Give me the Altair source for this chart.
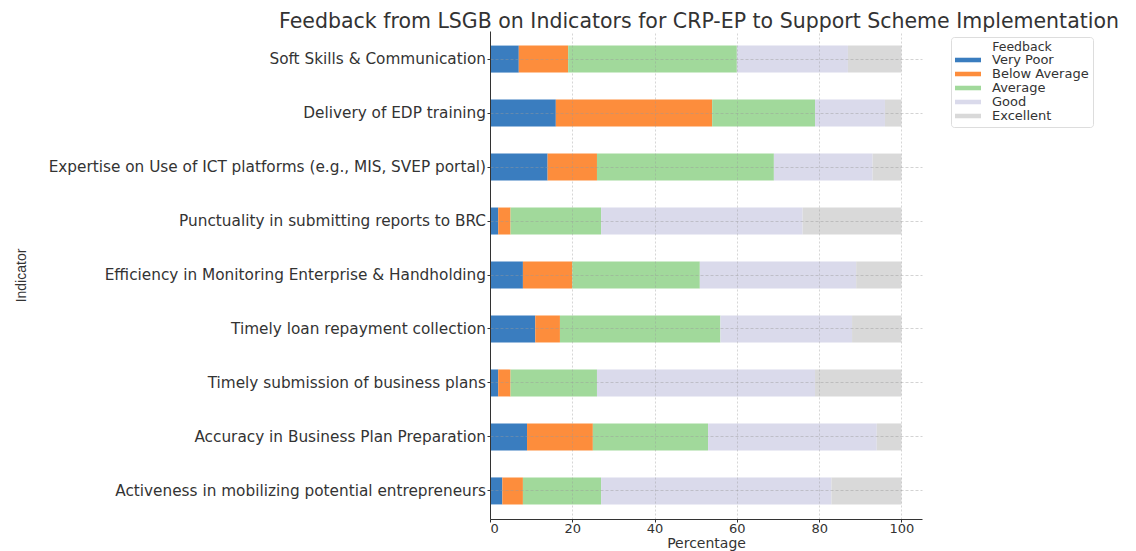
import altair as alt
import pandas as pd

indicators = [
    "Soft Skills & Communication",
    "Delivery of EDP training",
    "Expertise on Use of ICT platforms (e.g., MIS, SVEP portal)",
    "Punctuality in submitting reports to BRC",
    "Efficiency in Monitoring Enterprise & Handholding",
    "Timely loan repayment collection",
    "Timely submission of business plans",
    "Accuracy in Business Plan Preparation",
    "Activeness in mobilizing potential entrepreneurs",
]
feedback_levels = ["Very Poor", "Below Average", "Average", "Good", "Excellent"]
very_poor = [7, 16, 14, 2, 8, 11, 2, 9, 3]
below_average = [12, 38, 12, 3, 12, 6, 3, 16, 5]
average = [41, 25, 43, 22, 31, 39, 21, 28, 19]
good = [27, 17, 24, 49, 38, 32, 53, 41, 56]
excellent = [13, 4, 7, 24, 11, 12, 21, 6, 17]
colors = ["#3a7dbf", "#fd8d3c", "#a1d99b", "#dadaeb", "#d9d9d9"]
x_ticks = [0, 20, 40, 60, 80, 100]

series = [very_poor, below_average, average, good, excellent]
rows = []
for level_idx, (level, vals) in enumerate(zip(feedback_levels, series)):
    for ind, v in zip(indicators, vals):
        rows.append({"Indicator": ind, "Feedback": level, "Percentage": v, "rank": level_idx})
df = pd.DataFrame(rows)

FONT = "DejaVu Sans"

chart = alt.Chart(df).mark_bar().encode(
    y=alt.Y(
        "Indicator:N",
        sort=indicators,
        scale=alt.Scale(paddingInner=0.5, paddingOuter=0.27),
        axis=alt.Axis(
            title="Indicator",
            titleFont="Liberation Sans",
            titleFontSize=14,
            titleFontWeight="normal",
            titleColor="#333",
            titleX=-462,
            titleY=244,
            titleAngle=-90,
            labelFont=FONT,
            labelFontSize=15.3,
            labelColor="#333",
            labelLimit=600,
            labelPadding=1.5,
            tickSize=3,
            tickColor="#333",
            domainColor="#333",
            bandPosition=0.5,
            grid=True,
            gridDash=[3, 2],
            gridColor="#999",
            gridOpacity=0.55,
            gridWidth=0.8,
            zindex=1,
        ),
    ),
    x=alt.X(
        "Percentage:Q",
        stack="zero",
        scale=alt.Scale(domain=[0, 105], nice=False),
        axis=alt.Axis(
            values=x_ticks,
            title="Percentage",
            titleFont=FONT,
            titleFontSize=14,
            titleFontWeight="normal",
            titleColor="#333",
            titlePadding=1,
            labelFont=FONT,
            labelFontSize=13,
            labelColor="#333",
            labelPadding=0,
            tickSize=3,
            tickColor="#333",
            domainColor="#333",
            grid=True,
            gridDash=[2, 2],
            gridColor="#999",
            gridOpacity=0.5,
            gridWidth=0.8,
            zindex=1,
        ),
    ),
    color=alt.Color(
        "Feedback:N",
        sort=feedback_levels,
        scale=alt.Scale(domain=feedback_levels, range=colors),
        legend=alt.Legend(
            title="Feedback",
            orient="none",
            legendX=461,
            legendY=6,
            titleFont=FONT,
            titleFontSize=12.5,
            titleFontWeight="normal",
            titleColor="#333",
            titleAnchor="middle",
            titlePadding=0,
            labelFont=FONT,
            labelFontSize=13,
            labelColor="#333",
            symbolType="M-1,-0.35L3,-0.35L3,0.35L-1,0.35Z",
            symbolSize=169,
            symbolStrokeWidth=0,
            symbolOpacity=1,
            rowPadding=0,
            labelOffset=24,
            padding=4,
            strokeColor="#ddd",
            fillColor="white",
            cornerRadius=3,
        ),
    ),
    order=alt.Order("rank:Q"),
).properties(
    width=432,
    height=488,
    title=alt.TitleParams(
        "Feedback from LSGB on Indicators for CRP-EP to Support Scheme Implementation",
        font=FONT,
        fontSize=20.5,
        fontWeight="normal",
        color="#333",
        anchor="middle",
        dx=-7,
        offset=-1,
    ),
    autosize=alt.AutoSizeParams(type="none"),
    padding={"left": 482, "top": 23, "right": 206, "bottom": 40},
).configure_view(stroke=None)

chart.save("out.html", embed_options={"renderer": "svg", "actions": False})
